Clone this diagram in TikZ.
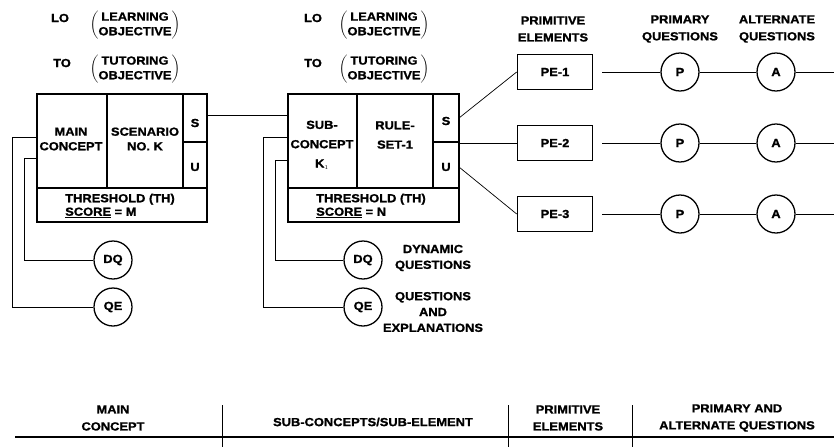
\documentclass[tikz,border=0pt]{standalone}
\usepackage{fontspec}
\setmainfont{Liberation Sans}[FakeStretch=1.1,BoldFeatures={FakeBold=1.2}]
\newcommand\lblfont{\bfseries\fontsize{10}{12.5}\selectfont}
\begin{document}
\begin{tikzpicture}[x=0.03cm,y=-0.03cm,
  lbl/.style={font=\lblfont,align=center,inner sep=0pt},
  cell/.style={line width=1.4pt},
  wire/.style={line width=0.6pt},
  pebox/.style={draw,line width=1.4pt,minimum width=2.25cm,minimum height=1.05cm,font=\lblfont},
  qcirc/.style={draw,circle,line width=1.1pt,minimum size=1.14cm,inner sep=0pt,font=\lblfont}]
\useasboundingbox (0,0) rectangle (834,447);

\node[lbl] (lo1) at (60,18) {LO};
\node[lbl] (lobj1) at (135,25) {$\left(\begin{tabular}{@{}c@{}}LEARNING\\OBJECTIVE\end{tabular}\right)$};
\node[lbl] (to1) at (62,63) {TO};
\node[lbl] (tobj1) at (135,69) {$\left(\begin{tabular}{@{}c@{}}TUTORING\\OBJECTIVE\end{tabular}\right)$};

\node[lbl] (lo2) at (313,18) {LO};
\node[lbl] (lobj2) at (384,25) {$\left(\begin{tabular}{@{}c@{}}LEARNING\\OBJECTIVE\end{tabular}\right)$};
\node[lbl] (to2) at (313,63) {TO};
\node[lbl] (tobj2) at (384,69) {$\left(\begin{tabular}{@{}c@{}}TUTORING\\OBJECTIVE\end{tabular}\right)$};

\draw[cell] (37,94) rectangle (207,222);
\draw[cell] (37,188) -- (207,188);
\draw[cell] (107,94) -- (107,188);
\draw[cell] (183,94) -- (183,188);
\draw[cell] (183,142) -- (207,142);
\node[lbl] (main) at (71,139) {MAIN\\CONCEPT};
\node[lbl] (scen) at (145,139) {SCENARIO\\NO. K};
\node[lbl] (s1) at (195,123) {S};
\node[lbl] (u1) at (195,167) {U};
\node[lbl,align=left,anchor=west] (th1) at (65,206) {THRESHOLD (TH)\\[-1pt]\underline{SCORE} = M};

\draw[cell] (288,94) rectangle (459,222);
\draw[cell] (288,188) -- (459,188);
\draw[cell] (357,94) -- (357,188);
\draw[cell] (433,94) -- (433,188);
\draw[cell] (433,142) -- (459,142);
\node[lbl] (sub) at (322,145) {SUB-\\[4pt]CONCEPT\\[4pt]K$_{\scriptscriptstyle 1}$};
\node[lbl] (rule) at (395,135) {RULE-\\[4pt]SET-1};
\node[lbl] (s2) at (446,121) {S};
\node[lbl] (u2) at (446,167) {U};
\node[lbl,align=left,anchor=west] (th2) at (316,206) {THRESHOLD (TH)\\[-1pt]\underline{SCORE} = N};

\coordinate (sout1) at (207,115);
\coordinate (sin2) at (288,115);
\draw[wire] (sout1) -- (sin2);

\node[lbl] (pehead) at (553,29) {PRIMITIVE\\[2pt]ELEMENTS};
\node[lbl] (phead) at (680,29) {PRIMARY\\[2pt]QUESTIONS};
\node[lbl] (ahead) at (777,29) {ALTERNATE\\[2pt]QUESTIONS};

\node[pebox] (pe1) at (555,72) {PE-1};
\node[pebox] (pe2) at (555,143) {PE-2};
\node[pebox] (pe3) at (555,214) {PE-3};

\coordinate (sout2) at (459,118);
\coordinate (mout2) at (459,143);
\coordinate (uout2) at (459,167);
\draw[wire] (sout2) -- (pe1.west);
\draw[wire] (mout2) -- (pe2.west);
\draw[wire] (uout2) -- (pe3.west);

\foreach \i/\y in {1/72,2/143,3/214}{
  \node[qcirc] (p\i) at (680,\y) {P};
  \node[qcirc] (a\i) at (776,\y) {A};
  \coordinate (e\i) at (834,\y);
  \draw[wire,shorten <=0.27cm] (pe\i) -- (p\i);
  \draw[wire] (p\i) -- (a\i);
  \draw[wire] (a\i) -- (e\i);
}

\node[qcirc] (dq1) at (113,260) {DQ};
\node[qcirc] (qe1) at (113,307) {QE};
\node[qcirc] (dq2) at (363,260) {DQ};
\node[qcirc] (qe2) at (363,307) {QE};

\coordinate (din1) at (37,158);
\coordinate (qin1) at (37,137);
\coordinate (din2) at (288,160);
\coordinate (qin2) at (288,137);
\draw[wire] (din1) -- ++(-13,0) |- (dq1);
\draw[wire] (qin1) -- ++(-25,0) |- (qe1);
\draw[wire] (din2) -- ++(-13,0) |- (dq2);
\draw[wire] (qin2) -- ++(-25,0) |- (qe2);

\node[lbl,align=center] (dqtxt) at (433,258) {DYNAMIC\\[1pt]QUESTIONS};
\node[lbl,align=center] (qetxt) at (433,312) {QUESTIONS\\[1pt]AND\\[1pt]EXPLANATIONS};

\coordinate (tl) at (15,437);
\coordinate (tr) at (834,437);
\draw[cell] (tl) -- (tr);
\foreach \x in {222,508,632}
  \draw[wire] (\x,405) -- (\x,447);
\node[lbl] (hmain) at (113,418) {MAIN\\[2pt]CONCEPT};
\node[lbl] (hsub) at (373,422) {SUB-CONCEPTS/SUB-ELEMENT};
\node[lbl] (hprim) at (568,418) {PRIMITIVE\\[2pt]ELEMENTS};
\node[lbl] (hpa) at (737,418) {PRIMARY AND\\[2pt]ALTERNATE QUESTIONS};
\end{tikzpicture}
\end{document}
